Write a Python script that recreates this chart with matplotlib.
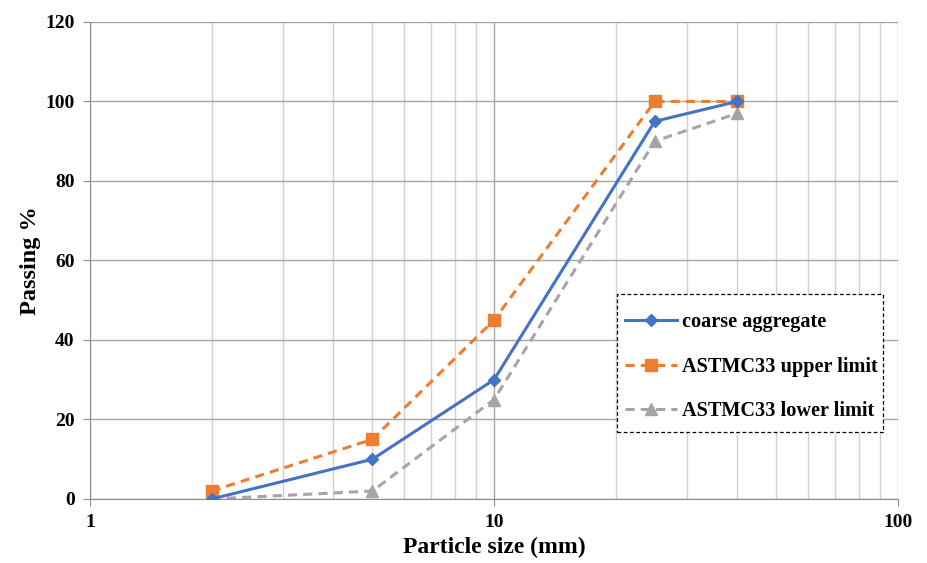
import matplotlib.pyplot as plt
from matplotlib.patches import Rectangle
import numpy as np

plt.rcParams['font.family'] = ['Liberation Serif', 'DejaVu Serif']
plt.rcParams['font.weight'] = 'bold'

sizes = [2, 5, 10, 25, 40]
coarse = [0, 10, 30, 95, 100]
upper = [2, 15, 45, 100, 100]
lower = [0, 2, 25, 90, 97]

fig = plt.figure(figsize=(9.28, 5.63), dpi=100)
ax = fig.add_axes([0.097, 0.1137, 0.8707, 0.8473])

ax.plot(sizes, coarse, color='#4472C4', lw=2.2, marker='D', ms=6,
        label='coarse aggregate', zorder=5)
ax.plot(sizes, upper, color='#ED7D31', lw=2.2, ls=(0, (3, 2)), marker='s', ms=8,
        label='ASTMC33 upper limit', zorder=4)
ax.plot(sizes, lower, color='#A5A5A5', lw=2.2, ls=(0, (3, 2)), marker='^', ms=8,
        label='ASTMC33 lower limit', zorder=3)

ax.set_xscale('log')
ax.set_xlim(1, 100)
ax.set_ylim(0, 120)
ax.set_yticks(np.arange(0, 121, 20))
ax.set_xticks([1, 10, 100])
ax.set_xticklabels(['1', '10', '100'])

ax.grid(which='major', axis='y', color='#A6A6A6', lw=1.0)
ax.grid(which='major', axis='x', color='#A6A6A6', lw=1.0)
ax.grid(which='minor', axis='x', color='#D0D0D0', lw=1.0)
ax.set_axisbelow(True)

for s in ['top', 'right']:
    ax.spines[s].set_visible(False)
for s in ['left', 'bottom']:
    ax.spines[s].set_color('#8C8C8C')
ax.tick_params(which='both', length=5, color='#8C8C8C', labelsize=14)
ax.tick_params(which='minor', length=0)
ax.tick_params(axis='x', pad=6)
ax.tick_params(axis='y', pad=6)

ax.set_xlabel('Particle size (mm)', fontsize=17, fontweight='bold', labelpad=4)
ax.set_ylabel('Passing %', fontsize=17.5, fontweight='bold', labelpad=3)

# legend box drawn separately so the padding matches
ax.add_patch(Rectangle((0.652, 0.14), 0.329, 0.29, transform=ax.transAxes,
                       facecolor='white', edgecolor='black', lw=0.9,
                       ls=(0, (3, 2)), zorder=6))
leg = ax.legend(loc='upper left', bbox_to_anchor=(0.662, 0.392),
                fontsize=14.6, frameon=False, labelspacing=1.22,
                handlelength=2.55, borderpad=0, handletextpad=0.25,
                borderaxespad=0)
leg.set_zorder(7)

plt.savefig('out.png', dpi=100)
